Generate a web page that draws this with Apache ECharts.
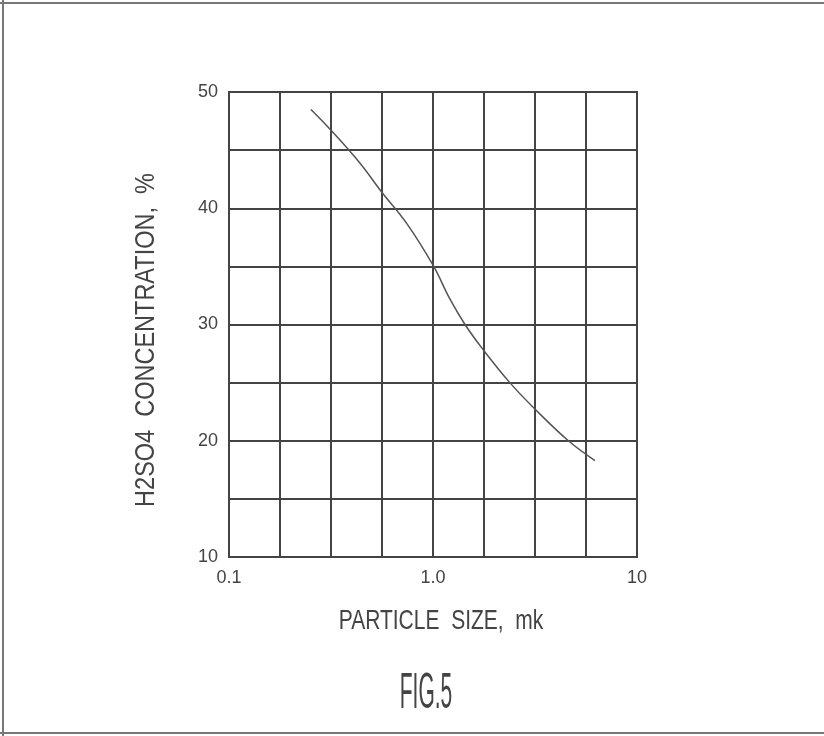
<!DOCTYPE html>
<html>
<head>
<meta charset="utf-8">
<script src="https://cdn.jsdelivr.net/npm/echarts@6/dist/echarts.min.js"></script>
<style>
html,body{margin:0;padding:0;background:#fff;}
#c{width:824px;height:736px;}
</style>
</head>
<body>
<div id="c"></div>
<script>
// Particle size (mk)
var particleSize = [0.252, 0.313, 0.438, 0.560, 0.743, 1.0, 1.21, 1.435, 1.75, 2.38, 3.13, 4.61, 6.22];
// H2SO4 concentration (%)
var concentration = [48.5, 46.8, 43.9, 41.4, 38.7, 35.1, 32.2, 30.0, 27.9, 25.0, 22.8, 20.0, 18.3];
// x tick labels (log scale, at decades)
var xTickLabels = {'-1': '0.1', '0': '1.0', '1': '10'};
var yTickLabels = [10, 20, 30, 40, 50];

var FONT = "'Liberation Sans',sans-serif";
var INK = '#444';

var data = particleSize.map(function (s, i) { return [Math.log10(s), concentration[i]]; });

var chart = echarts.init(document.getElementById('c'), null, {renderer: 'canvas'});
chart.setOption({
  backgroundColor: '#fff',
  animation: false,
  grid: {left: 229, right: 187, top: 92, bottom: 179, show: true, borderColor: INK, borderWidth: 2, containLabel: false},
  xAxis: {
    type: 'value', min: -1, max: 1, interval: 0.25,
    axisLine: {show: true, lineStyle: {color: INK, width: 2}},
    axisTick: {show: false},
    splitLine: {show: true, lineStyle: {color: INK, width: 2}},
    axisLabel: {
      margin: 12, color: INK, fontFamily: FONT, fontSize: 18,
      formatter: function (v) { var k = String(Math.round(v * 100) / 100); return xTickLabels[k] || ''; }
    }
  },
  yAxis: {
    type: 'value', min: 10, max: 50, interval: 5,
    axisLine: {show: true, lineStyle: {color: INK, width: 2}},
    axisTick: {show: false},
    splitLine: {show: true, lineStyle: {color: INK, width: 2}},
    axisLabel: {
      margin: 11, color: INK, fontFamily: FONT, fontSize: 18,
      formatter: function (v) { return yTickLabels.indexOf(v) >= 0 ? String(v) : ''; }
    }
  },
  series: [{
    type: 'line', data: data, smooth: 0.4, showSymbol: false,
    lineStyle: {color: '#555', width: 1.5}
  }],
  graphic: [
    {type: 'line', shape: {x1: 0, y1: 3, x2: 824, y2: 3}, style: {stroke: '#777', lineWidth: 2}},
    {type: 'line', shape: {x1: 3, y1: 0, x2: 3, y2: 736}, style: {stroke: '#777', lineWidth: 2}},
    {type: 'line', shape: {x1: 0, y1: 733, x2: 824, y2: 733}, style: {stroke: '#777', lineWidth: 2}},
    {type: 'text', x: 146, y: 340, rotation: Math.PI / 2, scaleY: 1.2,
      style: {text: 'H2SO4  CONCENTRATION,  %', fontFamily: 'Liberation Sans', fontSize: 23.5, fill: INK, align: 'center', verticalAlign: 'middle'}},
    {type: 'text', x: 441, y: 621, scaleY: 1.35,
      style: {text: 'PARTICLE  SIZE,  mk', fontFamily: 'Liberation Sans', fontSize: 21, fill: INK, align: 'center', verticalAlign: 'middle'}},
    {type: 'text', x: 426, y: 694, scaleY: 2.4,
      style: {text: 'FIG.5', fontFamily: 'Liberation Sans', fontSize: 21, fill: INK, align: 'center', verticalAlign: 'middle'}}
  ]
});
</script>
</body>
</html>
